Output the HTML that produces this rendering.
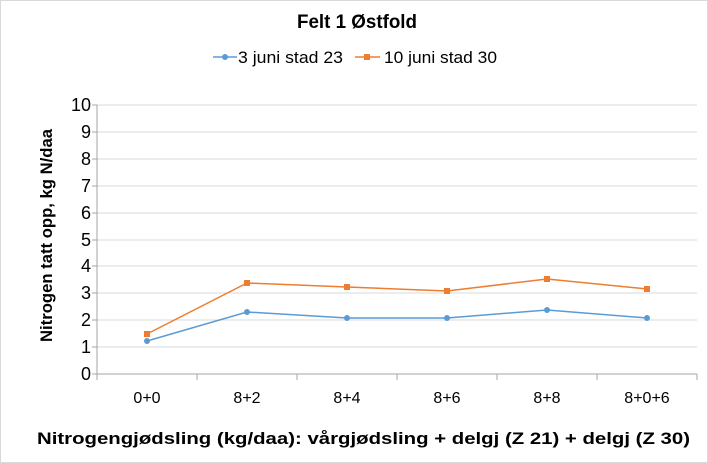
<!DOCTYPE html>
<html><head><meta charset="utf-8"><style>body{margin:0;background:#fff}svg{display:block;font-family:"Liberation Sans","DejaVu Sans",sans-serif}</style></head><body>
<svg width="708" height="463" viewBox="0 0 708 463">
<rect x="0.5" y="0.5" width="707" height="462" fill="#fff" stroke="#d9d9d9"/>
<text x="297" y="28" textLength="120" lengthAdjust="spacingAndGlyphs" font-size="19" font-weight="bold" fill="#000">Felt 1 Østfold</text>
<line x1="213" y1="57" x2="237" y2="57" stroke="#5b9bd5" stroke-width="1.5"/><circle cx="225" cy="57" r="3" fill="#5b9bd5"/>
<text x="238" y="63" textLength="105" lengthAdjust="spacingAndGlyphs" font-size="17" fill="#000">3 juni stad 23</text>
<line x1="355" y1="57" x2="380" y2="57" stroke="#ed7d31" stroke-width="1.5"/><rect x="364" y="54" width="6" height="6" fill="#ed7d31"/>
<text x="384" y="63" textLength="113" lengthAdjust="spacingAndGlyphs" font-size="17" fill="#000">10 juni stad 30</text>
<g stroke="#d9d9d9" stroke-width="1">
<line x1="97" y1="105" x2="697" y2="105"/><line x1="97" y1="132" x2="697" y2="132"/><line x1="97" y1="159" x2="697" y2="159"/><line x1="97" y1="186" x2="697" y2="186"/><line x1="97" y1="213" x2="697" y2="213"/><line x1="97" y1="240" x2="697" y2="240"/><line x1="97" y1="266" x2="697" y2="266"/><line x1="97" y1="293" x2="697" y2="293"/><line x1="97" y1="320" x2="697" y2="320"/><line x1="97" y1="347" x2="697" y2="347"/>
</g>
<g stroke="#a6a6a6" stroke-width="1">
<line x1="97" y1="105" x2="97" y2="374"/><line x1="97" y1="374" x2="697" y2="374"/>
<line x1="92" y1="105" x2="97" y2="105"/><line x1="92" y1="132" x2="97" y2="132"/><line x1="92" y1="159" x2="97" y2="159"/><line x1="92" y1="186" x2="97" y2="186"/><line x1="92" y1="213" x2="97" y2="213"/><line x1="92" y1="240" x2="97" y2="240"/><line x1="92" y1="266" x2="97" y2="266"/><line x1="92" y1="293" x2="97" y2="293"/><line x1="92" y1="320" x2="97" y2="320"/><line x1="92" y1="347" x2="97" y2="347"/><line x1="92" y1="374" x2="97" y2="374"/>
<line x1="97" y1="374" x2="97" y2="380"/><line x1="197" y1="374" x2="197" y2="380"/><line x1="297" y1="374" x2="297" y2="380"/><line x1="397" y1="374" x2="397" y2="380"/><line x1="497" y1="374" x2="497" y2="380"/><line x1="597" y1="374" x2="597" y2="380"/><line x1="697" y1="374" x2="697" y2="380"/>
</g>
<g font-size="18" fill="#000" text-anchor="end">
<text x="91" y="111">10</text><text x="91" y="138">9</text><text x="91" y="165">8</text><text x="91" y="192">7</text><text x="91" y="219">6</text><text x="91" y="246">5</text><text x="91" y="272">4</text><text x="91" y="299">3</text><text x="91" y="326">2</text><text x="91" y="353">1</text><text x="91" y="380">0</text>
</g>
<g font-size="16" fill="#000" text-anchor="middle">
<text x="147" y="403">0+0</text><text x="247" y="403">8+2</text><text x="347" y="403">8+4</text><text x="447" y="403">8+6</text><text x="547" y="403">8+8</text><text x="647" y="403">8+0+6</text>
</g>
<text x="37" y="444" textLength="653" lengthAdjust="spacingAndGlyphs" font-size="17" font-weight="bold" fill="#000">Nitrogengjødsling (kg/daa): vårgjødsling + delgj (Z 21) + delgj (Z 30)</text>
<text transform="translate(52,342) rotate(-90)" textLength="213" lengthAdjust="spacingAndGlyphs" font-size="17" font-weight="bold" fill="#000">Nitrogen tatt opp, kg N/daa</text>
<polyline fill="none" stroke="#ed7d31" stroke-width="1.5" points="147,334 247,283 347,287 447,291 547,279 647,289"/>
<g fill="#ed7d31"><rect x="144" y="331" width="6" height="6"/><rect x="244" y="280" width="6" height="6"/><rect x="344" y="284" width="6" height="6"/><rect x="444" y="288" width="6" height="6"/><rect x="544" y="276" width="6" height="6"/><rect x="644" y="286" width="6" height="6"/></g>
<polyline fill="none" stroke="#5b9bd5" stroke-width="1.5" points="147,341 247,312 347,318 447,318 547,310 647,318"/>
<g fill="#5b9bd5"><circle cx="147" cy="341" r="3"/><circle cx="247" cy="312" r="3"/><circle cx="347" cy="318" r="3"/><circle cx="447" cy="318" r="3"/><circle cx="547" cy="310" r="3"/><circle cx="647" cy="318" r="3"/></g>
</svg>
</body></html>
